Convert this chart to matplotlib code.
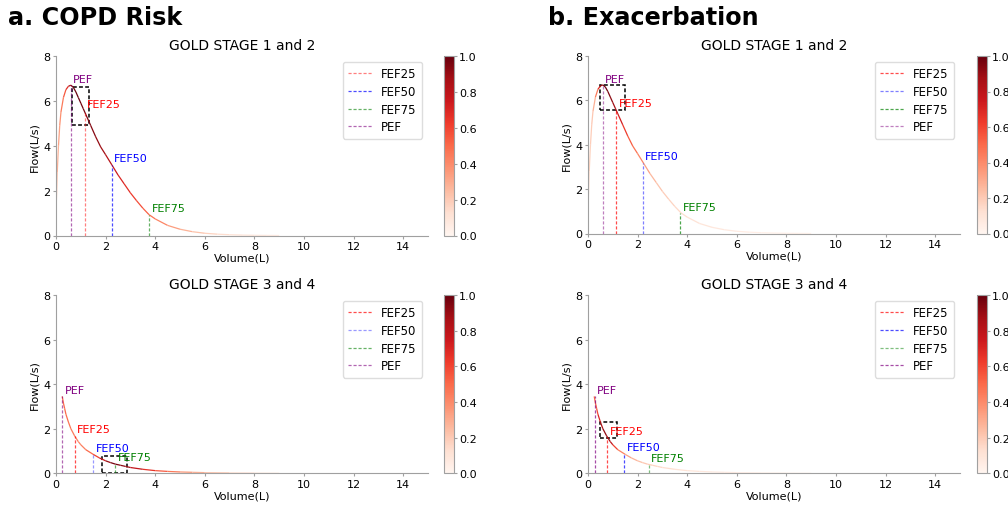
import numpy as np
import matplotlib
matplotlib.use("Agg")
import matplotlib.pyplot as plt
from matplotlib.collections import LineCollection
from matplotlib.patches import Rectangle
from matplotlib.cm import ScalarMappable
from matplotlib.colors import Normalize

# 曲线数据 (GOLD 1-2)
vol_12 = [0.0, 0.05, 0.1, 0.15, 0.2, 0.3, 0.4, 0.5, 0.6, 0.7, 0.8, 0.9, 1.0, 1.1, 1.2, 1.4,
          1.6, 1.8, 2.0, 2.25, 2.5, 2.75, 3.0, 3.25, 3.5, 3.75, 4.0, 4.5, 5.0, 5.5, 6.0,
          6.5, 7.0, 7.5, 8.0, 8.5, 9.0]
flow_12 = [1.0, 2.8, 4.0, 4.9, 5.5, 6.15, 6.5, 6.65, 6.7, 6.6, 6.4, 6.15, 5.9, 5.65, 5.4, 4.9,
           4.4, 3.95, 3.6, 3.15, 2.7, 2.3, 1.9, 1.55, 1.22, 0.93, 0.74, 0.45, 0.28, 0.17, 0.1,
           0.06, 0.035, 0.02, 0.01, 0.005, 0.0]

# 曲线数据 (GOLD 3-4)
vol_34 = [0.25, 0.3, 0.35, 0.4, 0.5, 0.6, 0.75, 0.9, 1.0, 1.2, 1.5, 1.75, 2.0, 2.2, 2.4,
          2.6, 2.8, 3.0, 3.5, 4.0, 4.5, 5.0, 5.5, 6.0, 7.0, 8.0, 9.0]
flow_34 = [3.45, 3.15, 2.9, 2.65, 2.3, 2.0, 1.68, 1.42, 1.28, 1.06, 0.85, 0.69, 0.56, 0.48, 0.41,
           0.36, 0.31, 0.26, 0.18, 0.12, 0.085, 0.06, 0.045, 0.03, 0.015, 0.007, 0.0]

# 重要性 (颜色)
imp_copd_12 = [0.2, 0.25, 0.3, 0.35, 0.4, 0.5, 0.6, 0.75, 0.9, 0.97, 1.0, 1.0, 0.98, 0.97,
               0.96, 0.95, 0.92, 0.9, 0.85, 0.78, 0.72, 0.68, 0.65, 0.6, 0.55, 0.5, 0.45, 0.38,
               0.3, 0.25, 0.2, 0.15, 0.12, 0.1, 0.08, 0.06, 0.05]
imp_exac_12 = [0.12, 0.15, 0.18, 0.2, 0.22, 0.35, 0.55, 0.8, 0.95, 1.0, 0.97, 0.93, 0.9, 0.85,
               0.78, 0.68, 0.58, 0.5, 0.45, 0.38, 0.28, 0.24, 0.2, 0.18, 0.16, 0.14, 0.12, 0.1,
               0.08, 0.07, 0.06, 0.05, 0.04, 0.03, 0.03, 0.02, 0.02]
imp_copd_34 = [0.5, 0.5, 0.5, 0.5, 0.48, 0.46, 0.44, 0.42, 0.42, 0.45, 0.55, 0.68, 0.85, 0.95,
               0.98, 0.95, 0.9, 0.85, 0.72, 0.6, 0.5, 0.4, 0.32, 0.25, 0.18, 0.12, 0.08]
imp_exac_34 = [0.5, 0.52, 0.55, 0.62, 0.78, 0.9, 0.92, 0.85, 0.72, 0.5, 0.35, 0.3, 0.25, 0.22,
               0.2, 0.18, 0.16, 0.15, 0.12, 0.1, 0.08, 0.07, 0.06, 0.05, 0.04, 0.03, 0.02]

# 标记点 (x, y)
labels = ['FEF25', 'FEF50', 'FEF75', 'PEF']
colors = ['red', 'blue', 'green', 'purple']
pts_copd_12 = [(1.15, 5.55), (2.25, 3.15), (3.77, 0.92), (0.6, 6.7)]
pts_exac_12 = [(1.13, 5.6), (2.2, 3.2), (3.72, 0.92), (0.6, 6.65)]
pts_copd_34 = [(0.75, 1.68), (1.5, 0.85), (2.38, 0.42), (0.24, 3.45)]
pts_exac_34 = [(0.77, 1.62), (1.45, 0.87), (2.44, 0.38), (0.27, 3.45)]
alpha_copd_12 = [0.5, 0.7, 0.6, 0.6]
alpha_exac_12 = [0.7, 0.5, 0.7, 0.5]
alpha_copd_34 = [0.7, 0.4, 0.6, 0.6]
alpha_exac_34 = [0.7, 0.7, 0.5, 0.7]

# 高亮框 (x0, x1, y0, y1)
box_copd_12 = (0.66, 1.34, 4.92, 6.62)
box_exac_12 = (0.48, 1.51, 5.55, 6.68)
box_copd_34 = (1.87, 2.88, 0.0, 0.79)
box_exac_34 = (0.47, 1.15, 1.57, 2.31)

panels = [
    ('GOLD STAGE 1 and 2', vol_12, flow_12, imp_copd_12, pts_copd_12, alpha_copd_12, box_copd_12),
    ('GOLD STAGE 1 and 2', vol_12, flow_12, imp_exac_12, pts_exac_12, alpha_exac_12, box_exac_12),
    ('GOLD STAGE 3 and 4', vol_34, flow_34, imp_copd_34, pts_copd_34, alpha_copd_34, box_copd_34),
    ('GOLD STAGE 3 and 4', vol_34, flow_34, imp_exac_34, pts_exac_34, alpha_exac_34, box_exac_34),
]

W, H = 1008, 506
fig = plt.figure(figsize=(W / 100, H / 100), dpi=100)

# 坐标轴位置 (像素)
ax_px = [(56, 57, 428, 236.5), (588, 57, 960, 234.5),
         (56, 296, 428, 474.3), (588, 296, 960, 474.3)]
cb_px = [(444, 454), (977, 987)]

norm = Normalize(0, 1)
spine_col = '#a0a0a0'
dash = (2.5, 1.5)

for i, (title, vol, flow, imp, pts, alphas, box) in enumerate(panels):
    x0, y0, x1, y1 = ax_px[i]
    ax = fig.add_axes([x0 / W, 1 - y1 / H, (x1 - x0) / W, (y1 - y0) / H])

    v = np.array(vol)
    f = np.array(flow)
    c = np.array(imp)
    seg = np.stack([np.column_stack([v[:-1], f[:-1]]), np.column_stack([v[1:], f[1:]])], axis=1)
    lc = LineCollection(seg, cmap='Reds', norm=norm, linewidth=0.9)
    lc.set_array((c[:-1] + c[1:]) / 2)
    ax.add_collection(lc)

    for lab, col, (px, py), a in zip(labels, colors, pts, alphas):
        ax.plot([px, px], [0, py], linestyle=(0, dash), color=col, linewidth=0.9, alpha=a, label=lab)
        ax.text(px + 0.1, py + 0.07, lab, color=col, fontsize=8, va='bottom', ha='left')

    bx0, bx1, by0, by1 = box
    ax.add_patch(Rectangle((bx0, by0), bx1 - bx0, by1 - by0, fill=False,
                           edgecolor='black', linestyle=(0, dash), linewidth=1.1))

    ax.set_xlim(0, 15)
    ax.set_ylim(0, 8)
    ax.set_xticks(range(0, 15, 2))
    ax.set_yticks(range(0, 9, 2))
    ax.set_xlabel('Volume(L)', fontsize=8, labelpad=1)
    ax.set_ylabel('Flow(L/s)', fontsize=8, labelpad=3)
    ax.set_title(title, fontsize=10, pad=5)
    for s in ['top', 'right']:
        ax.spines[s].set_visible(False)
    for s in ['left', 'bottom']:
        ax.spines[s].set_color(spine_col)
    ax.tick_params(labelsize=8, color=spine_col, length=2.5, pad=1.5)
    ax.legend(loc='upper right', fontsize=8.5, frameon=True, framealpha=1, edgecolor='#dddddd',
              labelspacing=0.4, borderpad=0.45)

    cx0, cx1 = cb_px[i % 2]
    cax = fig.add_axes([cx0 / W, 1 - y1 / H, (cx1 - cx0) / W, (y1 - y0) / H])
    cb = fig.colorbar(ScalarMappable(norm=norm, cmap='Reds'), cax=cax)
    cb.outline.set_edgecolor(spine_col)
    cb.set_ticks([0.0, 0.2, 0.4, 0.6, 0.8, 1.0])
    cax.tick_params(labelsize=8, color=spine_col, length=2.5, pad=1)

fig.text(8 / W, 1 - 25 / H, 'a. COPD Risk', fontsize=17.2, fontweight='bold', va='baseline')
fig.text(548 / W, 1 - 25 / H, 'b. Exacerbation', fontsize=17.2, fontweight='bold', va='baseline')

fig.savefig('out.png', dpi=100)
